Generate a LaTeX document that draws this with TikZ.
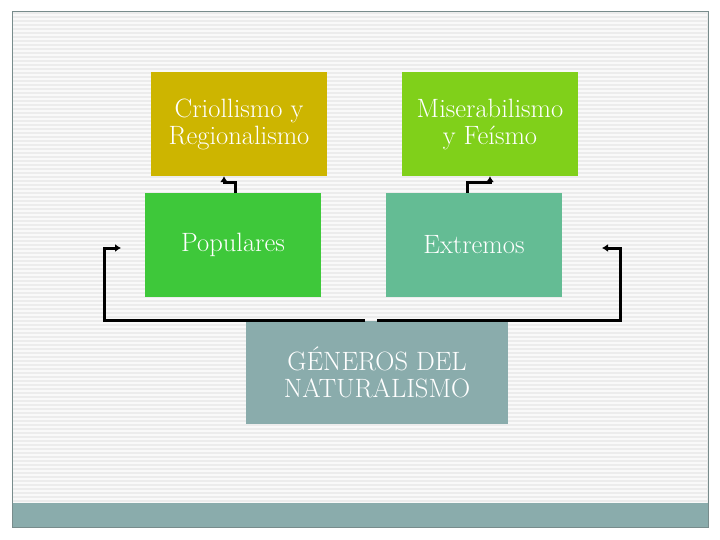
\documentclass[tikz,border=0pt]{standalone}
\usetikzlibrary{arrows.meta}
\definecolor{criocol}{RGB}{205,181,0}
\definecolor{misercol}{RGB}{128,208,26}
\definecolor{populcol}{RGB}{62,200,58}
\definecolor{extrecol}{RGB}{100,188,148}
\definecolor{generocol}{RGB}{138,172,172}
\definecolor{stripecol}{RGB}{236,236,236}
\definecolor{framecol}{RGB}{120,140,140}
\begin{document}
\begin{tikzpicture}[
    x=1pt, y=-1pt,
    box/.style={draw=none, text=white, align=center, inner sep=0pt,
                minimum width=176pt, minimum height=104pt,
                font=\fontsize{26.5}{27}\selectfont},
    conn/.style={line width=3pt, -{Latex[length=6pt,width=8pt]}}]

\useasboundingbox (0,0) rectangle (720,540);
\fill[white] (0,0) rectangle (720,540);
\fill[stripecol] (12,12) rectangle (708,527);
\foreach \y in {14,18,...,502}
    \fill[white!70!stripecol] (13,\y) rectangle (707,\y+1.6);
\fill[generocol] (12,503) rectangle (708,527);
\draw[framecol, line width=1pt] (12,12) rectangle (708,527);

\node[box, fill=criocol] (crio) at (239,124) {Criollismo y\\Regionalismo};
\node[box, fill=misercol] (miser) at (490,124) {Miserabilismo\\y Feísmo};
\node[box, fill=populcol] (popul) at (233,245) {Populares};
\node[box, fill=extrecol] (extre) at (474,245) {Extremos};
\node[box, fill=generocol, minimum width=262pt, minimum height=103pt] (generos) at (377,372.5)
    {GÉNEROS DEL\\NATURALISMO};

\coordinate (lend) at (121,248);
\coordinate (rend) at (602,248);

\draw[conn] ([xshift=2pt]popul.north) -- ++(0,-10) -| ([xshift=-15pt]crio.south);
\draw[conn] ([xshift=-7pt]extre.north) -- ++(0,-10) -| (miser.south);
\draw[conn] ([xshift=-12pt]generos.north) -| ([xshift=-17pt]lend) -- (lend);
\draw[conn] (generos.north) -| ([xshift=18pt]rend) -- (rend);

\end{tikzpicture}
\end{document}
